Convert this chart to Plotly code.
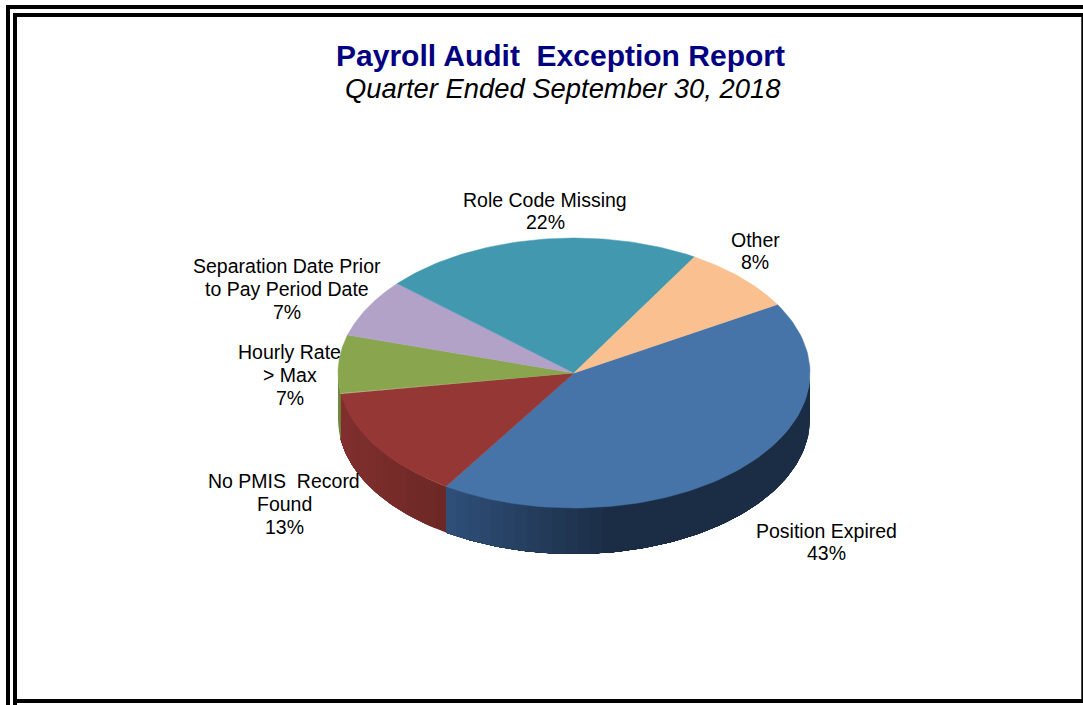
import numpy as np
import plotly.graph_objects as go

categories = ["Position Expired", "No PMIS Record Found", "Hourly Rate > Max",
              "Separation Date Prior to Pay Period Date", "Role Code Missing", "Other"]
values = [42.6, 13.4, 7, 7, 22, 8]
top_colors = ["#4674A8", "#953735", "#89A54E", "#B3A2C7", "#4198AF", "#FAC090"]
wall_left = ["#30507A", "#81302E", "#6F8A3E", "#8F80A0", "#2F7488", "#C89A70"]
wall_right = ["#1B2D45", "#6C2826", "#6F8A3E", "#8F80A0", "#2F7488", "#C89A70"]
label_lines = [["Position Expired", "43%"], ["No PMIS  Record", "Found", "13%"], ["Hourly Rate", "> Max", "7%"],
               ["Separation Date Prior", "to Pay Period Date", "7%"], ["Role Code Missing", "22%"], ["Other", "8%"]]

CX, CY, RX, RY, DEPTH = 574, 373, 236, 135, 46
START = 59.5


def hex_rgb(h):
    return np.array([int(h[i:i + 2], 16) for i in (1, 3, 5)], float)


def ell(theta):
    t = np.radians(theta)
    return CX + RX * np.sin(t), CY - RY * np.cos(t)


fig = go.Figure()
angles = START + np.concatenate([[0], np.cumsum(values)]) * 3.6

# side wall, only the front half of the rim; each step overlaps everything that follows it
for i in range(len(values)):
    a0, a1 = max(angles[i], 90), min(angles[i + 1], 270)
    if a1 <= a0:
        continue
    n = max(2, int((a1 - a0) / 3))
    edges = np.linspace(a0, a1, n + 1)
    span = [ell(a0)[0], ell(a1)[0]]
    for j in range(n):
        th = np.linspace(edges[j], a1, max(4, 3 * (n - j)))
        ex, ey = ell(th)
        xs = np.concatenate([ex, ex[::-1]])
        ys = np.concatenate([ey, ey[::-1] + DEPTH])
        xm = ell((edges[j] + edges[j + 1]) / 2)[0]
        f = (xm - min(span)) / (abs(span[0] - span[1]) + 1e-9)
        f = min(1, f * 2.2) if i == 0 else f
        c = hex_rgb(wall_left[i]) * (1 - f) + hex_rgb(wall_right[i]) * f
        col = "rgb(%d,%d,%d)" % tuple(c)
        fig.add_trace(go.Scatter(x=xs, y=ys, mode="lines", fill="toself", fillcolor=col,
                                 line=dict(color=col, width=0), hoverinfo="skip", showlegend=False))

# top face
for i in range(len(values)):
    th = np.linspace(angles[i], angles[i + 1], 90)
    ex, ey = ell(th)
    fig.add_trace(go.Scatter(x=np.concatenate([[CX], ex, [CX]]), y=np.concatenate([[CY], ey, [CY]]),
                             mode="lines", fill="toself", fillcolor=top_colors[i],
                             line=dict(color=top_colors[i], width=0.5), name=categories[i],
                             hoverinfo="name", showlegend=False))

annotations = [
    dict(x=560, y=55, text="<b>Payroll Audit  Exception Report</b>",
         font=dict(family="Liberation Sans", size=30, color="#000080")),
    dict(x=562.5, y=88, text="<i>Quarter Ended September 30, 2018</i>",
         font=dict(family="Liberation Sans", size=27.4, color="#000000")),
]
label_x = [826, 284, 289.5, 287, 545, 755]
label_y0 = [531, 481, 352, 266, 200, 240]
for lines, x, y0 in zip(label_lines, label_x, label_y0):
    step = 23 if len(lines) == 3 else 22
    for k, t in enumerate(lines):
        annotations.append(dict(x=x, y=y0 + k * step, text=t,
                                font=dict(family="Liberation Sans", size=19.5, color="#000000")))
for a in annotations:
    a.update(xref="x", yref="y", showarrow=False, xanchor="center", yanchor="middle", align="center")

frame = [(6, 5, 1083, 9), (6, 5, 10, 705), (13, 13, 17, 705), (13, 13, 1083, 17),
         (1081.3, 13, 1083, 703), (13, 699, 1083, 703)]
shapes = [dict(type="rect", xref="x", yref="y", x0=a, y0=b, x1=c, y1=d,
               fillcolor="#000000", line=dict(width=0), layer="below") for a, b, c, d in frame]

fig.update_layout(
    width=1083, height=705, margin=dict(l=0, r=0, t=0, b=0),
    paper_bgcolor="#FFFFFF", plot_bgcolor="#FFFFFF", showlegend=False,
    xaxis=dict(range=[0, 1083], visible=False, fixedrange=True),
    yaxis=dict(range=[705, 0], visible=False, fixedrange=True),
    annotations=annotations, shapes=shapes,
)
fig.write_html("out.html", config={"displayModeBar": False},
               post_script="document.body.style.margin='0';")
